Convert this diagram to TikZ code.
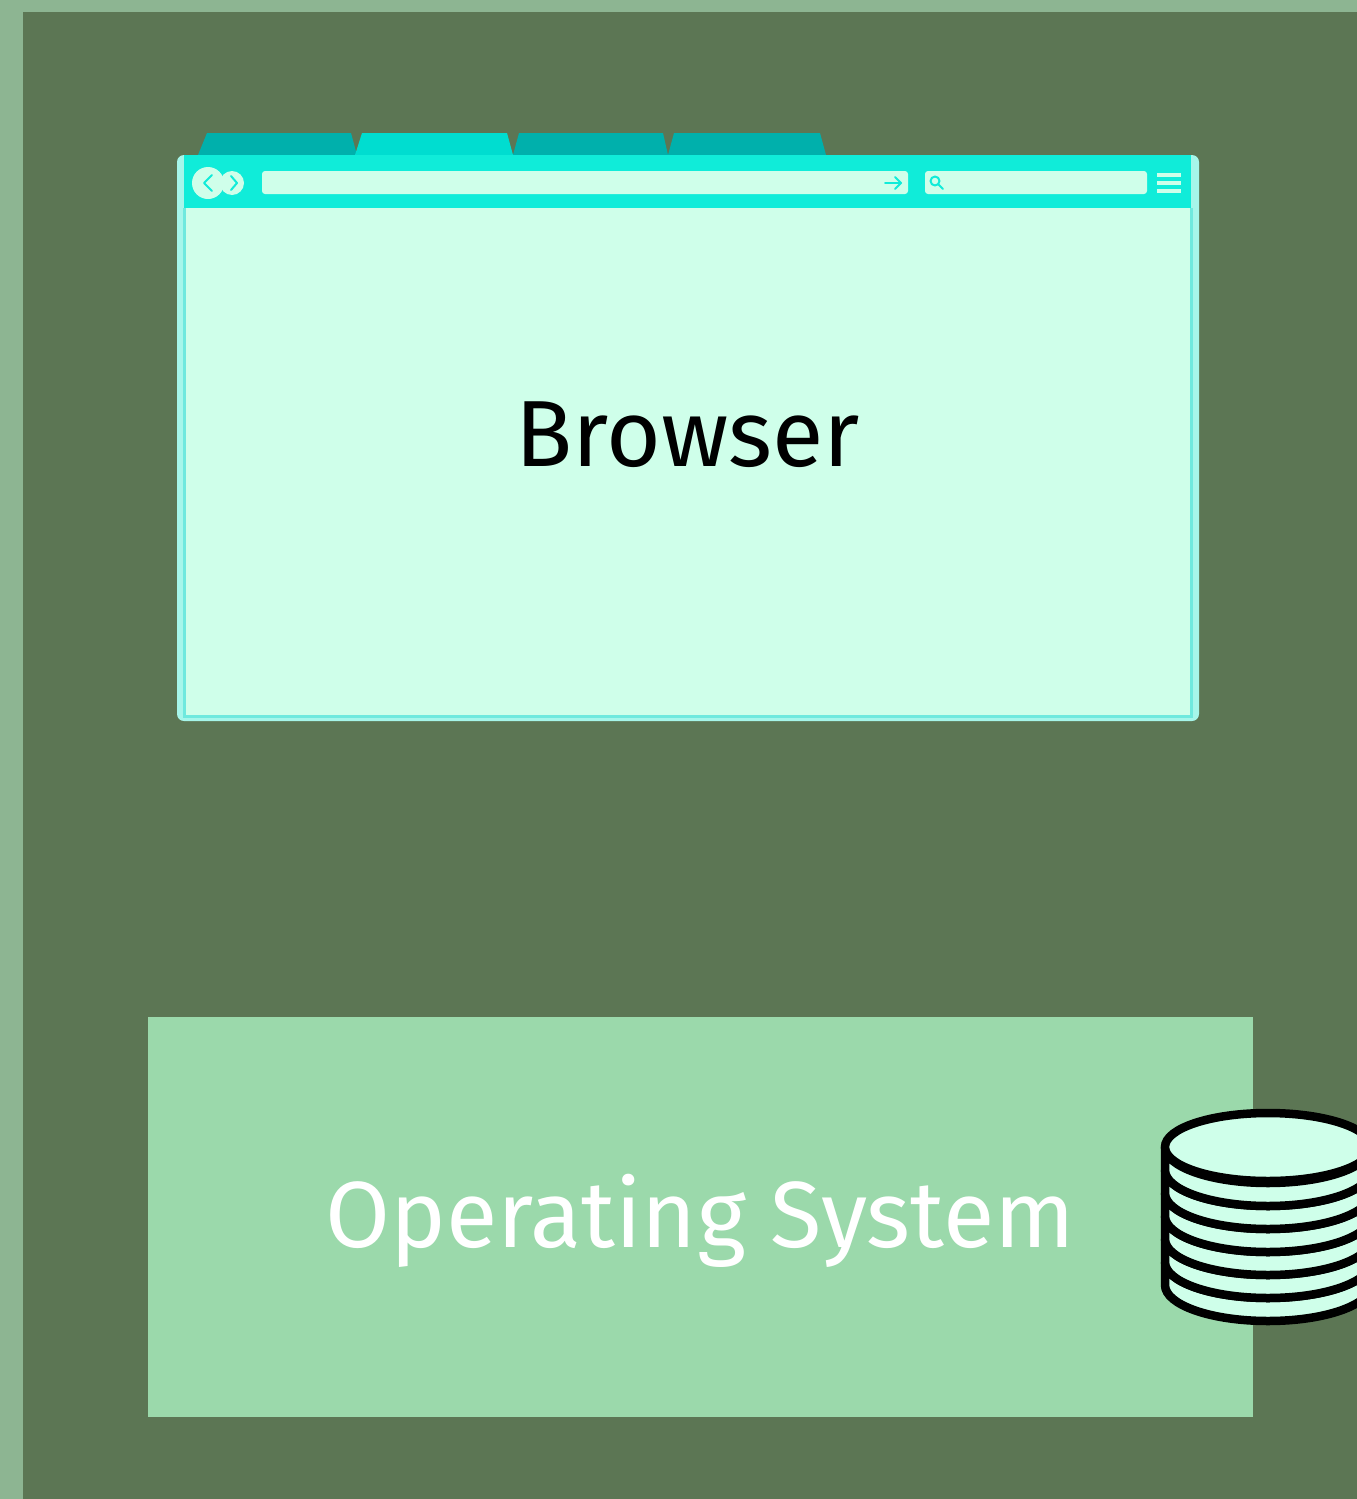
\documentclass[tikz,border=0pt]{standalone}
\usepackage{fontspec}
\setmainfont{Fira Sans}
\definecolor{frame}{HTML}{8DB592}
\definecolor{stage}{HTML}{5C7654}
\definecolor{tabdark}{HTML}{00B0AC}
\definecolor{tabbright}{HTML}{00DDD0}
\definecolor{bar}{HTML}{10ECD9}
\definecolor{pane}{HTML}{CFFFEA}
\definecolor{rim}{HTML}{A6F6EA}
\definecolor{edge}{HTML}{6FE9DE}
\definecolor{osfill}{HTML}{9BD9AB}
\begin{document}
\begin{tikzpicture}[x=1pt,y=-1pt,
  tab/.style={fill=#1},
  field/.style={fill=pane, rounded corners=3pt},
  icon/.style={draw=bar, line width=2pt, line cap=round, line join=round},
  disk/.style={fill=pane, draw=black, line width=8.5pt},
  label/.style={font=\fontsize{94}{94}\selectfont, inner sep=0pt}]
\useasboundingbox (0,0) rectangle (1357,1499);
\clip (0,0) rectangle (1357,1499);
% backdrop
\fill[frame] (0,0) rectangle (1357,1499);
\fill[stage] (23,12) rectangle (1357,1499);

% browser tabs
\fill[tab=tabdark]   (198,155) -- (207,133) -- (351,133) -- (357,155) -- cycle;
\fill[tab=tabbright] (355,155) -- (362,133) -- (507,133) -- (513,155) -- cycle;
\fill[tab=tabdark]   (513,155) -- (519,133) -- (663,133) -- (668,155) -- cycle;
\fill[tab=tabdark]   (668,155) -- (674,133) -- (820,133) -- (826,155) -- cycle;

% browser window
\fill[rim, rounded corners=7pt] (177,155) rectangle (1199,721);
\fill[pane] (184,208) rectangle (1191,716);
\draw[edge, line width=3pt] (184,208) -- (184,716) -- (1191,716) -- (1191,208);
\fill[bar] (184,155) rectangle (1191,208);

% navigation buttons
\fill[pane] (232,183) circle (12);
\draw[icon] (231,176) -- (237,183) -- (231,190);
\fill[pane] (208,183) circle (16);
\draw[icon] (212,175) -- (204,183) -- (212,191);

% address field with go arrow
\fill[field] (262,171) rectangle (908,194);
\draw[icon] (885,183) -- (901,183);
\draw[icon] (895,177) -- (901,183) -- (895,189);

% search field with magnifier
\fill[field] (925,171) rectangle (1147,194);
\draw[icon] (935,181) circle (4.5);
\draw[icon] (938.5,184.5) -- (943,189);

% menu button
\foreach \yy in {175,183,191}
  \fill[pane] (1157,\yy-2) rectangle (1181,\yy+2);

\node[label] (browser) at (688,435) {Browser};

% operating system block
\fill[osfill] (148,1017) rectangle (1253,1417);
\node[label, text=white] (os) at (700,1221) {Operating System};

% storage stack
\foreach \i in {6,5,...,1}{
  \pgfmathsetmacro{\top}{1147+23*\i}
  \draw[disk] (1165,\top-23) -- (1165,\top)
    arc[start angle=180, end angle=0, x radius=103, y radius=36]
    -- (1371,\top-23) arc[start angle=0, end angle=180, x radius=103, y radius=36] -- cycle;
}
\draw[disk] (1268,1147) ellipse[x radius=103, y radius=34];
\end{tikzpicture}
\end{document}
